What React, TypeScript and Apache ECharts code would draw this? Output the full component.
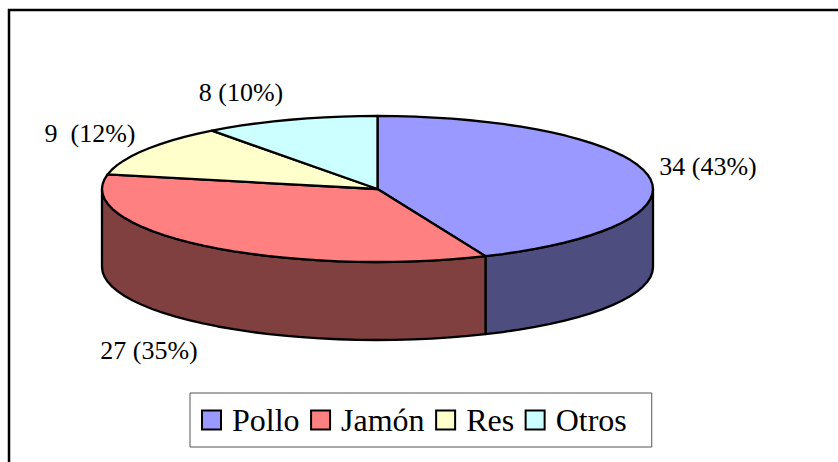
import React, { useEffect, useRef } from "react";
import * as echarts from "echarts";

const categories = ["Pollo", "Jamón", "Res", "Otros"];
const values = [34, 27, 9, 8];
const labels = ["34 (43%)", "27 (35%)", "9  (12%)", "8 (10%)"];
const topColors = ["#9999FF", "#FF8080", "#FFFFCC", "#CCFFFF"];
const sideColors = ["#4D4D80", "#804040", "#808066", "#668080"];
const labelPos = [[708, 166], [149, 350], [90, 133], [241, 92]];

const CX = 377.5, CY = 189, RX = 275.5, RY = 73, DEPTH = 78;
const total = values.reduce((a, b) => a + b, 0);
const starts = values.map((_, i) => values.slice(0, i).reduce((a, b) => a + b, 0));

const pt = (deg: number, dy = 0): number[] => {
  const r = (deg * Math.PI) / 180;
  return [CX + RX * Math.sin(r), CY - RY * Math.cos(r) + dy];
};
const arc = (a: number, b: number, dy = 0): number[][] => {
  const n = Math.max(2, Math.ceil(Math.abs(b - a) / 4));
  const out: number[][] = [];
  for (let i = 0; i <= n; i++) out.push(pt(a + ((b - a) * i) / n, dy));
  return out;
};

const lineStyle = { stroke: "#000", lineWidth: 2.3, lineJoin: "round" as const };

const renderSlice = (_: any, api: any) => {
  const i = api.value(2) as number;
  const a0 = (api.value(1) / total) * 360;
  const a1 = ((api.value(1) + api.value(0)) / total) * 360;
  const children: any[] = [];
  const s0 = Math.max(a0, 90), s1 = Math.min(a1, 270);
  if (s1 > s0) {
    children.push({
      type: "polygon",
      shape: { points: [...arc(s0, s1), ...arc(s1, s0, DEPTH)] },
      style: { fill: sideColors[i], ...lineStyle },
    });
  }
  children.push({
    type: "polygon",
    shape: { points: [[CX, CY], ...arc(a0, a1)] },
    style: { fill: topColors[i], ...lineStyle },
  });
  children.push({
    type: "text",
    style: {
      x: labelPos[i][0], y: labelPos[i][1], text: labels[i], fill: "#000",
      font: '26px "Liberation Serif"', align: "center", verticalAlign: "middle",
    },
  });
  return { type: "group", children };
};

export default function App() {
  const ref = useRef<HTMLDivElement>(null);
  useEffect(() => {
    const chart = echarts.init(ref.current!, undefined, { renderer: "svg" });
    chart.setOption({
      animation: false,
      backgroundColor: "#fff",
      legend: {
        left: 190, top: 393,
        padding: [11, 25, 11, 11],
        data: categories,
        icon: "rect",
        itemWidth: 19, itemHeight: 19, itemGap: 10.5,
        backgroundColor: "#fff",
        borderColor: "#555", borderWidth: 1,
        selectedMode: false,
        textStyle: { fontFamily: "Liberation Serif", fontSize: 32, color: "#000", padding: [3, 0, 0, 6] },
        itemStyle: { borderColor: "#000", borderWidth: 2 },
      },
      graphic: [{
        type: "rect", z: -1, silent: true,
        shape: { x: 9, y: 10, width: 900, height: 500 },
        style: { fill: "#fff", stroke: "#000", lineWidth: 2.5 },
      }],
      series: categories.map((name, i) => ({
        type: "custom",
        name,
        coordinateSystem: "none",
        renderItem: renderSlice,
        itemStyle: { color: topColors[i] },
        encode: { tooltip: 0 },
        data: [[values[i], starts[i], i]],
      })),
    });
    return () => chart.dispose();
  }, []);
  return <div ref={ref} style={{ position: "fixed", left: 0, top: 0, width: 838, height: 462 }} />;
}
